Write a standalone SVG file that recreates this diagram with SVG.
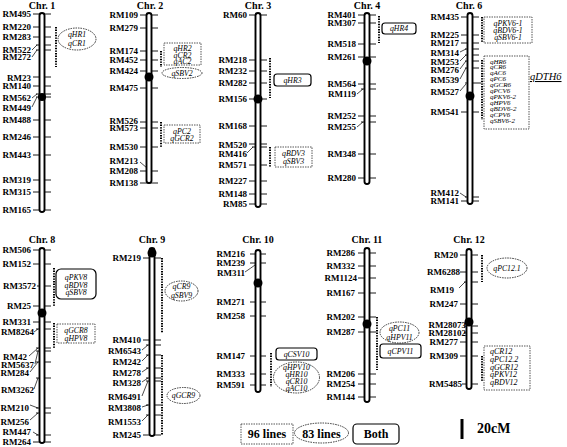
<svg xmlns="http://www.w3.org/2000/svg" width="567" height="447" viewBox="0 0 567 447">
<style>
text{font-family:"Liberation Serif","Times New Roman",serif;fill:#000}
.t{font-size:10px;font-weight:bold;text-anchor:middle}
.m{font-size:9px;font-weight:bold;text-anchor:end}
.q{font-size:7.8px;font-style:italic;text-anchor:middle}
.bar{fill:#fff;stroke:#000;stroke-width:1.9}
.tk{stroke:#000;stroke-width:0.9}
.ld{stroke:#000;stroke-width:0.7;fill:none}
.cen{fill:#000}
.iv{stroke:#000;stroke-width:2;stroke-dasharray:1.4 1.2}
.db{fill:none;stroke:#444;stroke-width:0.9;stroke-dasharray:1.5 1}
.el{fill:none;stroke:#333;stroke-width:1;stroke-dasharray:1.5 1}
.rb{fill:none;stroke:#000;stroke-width:1.2}
.lg{font-size:12px;font-weight:bold;text-anchor:middle}
.s6{font-size:7px;font-style:italic;text-anchor:start}
</style>

<!-- Chromosome 1 -->
<g id="chr1">
<text class="t" x="42" y="9">Chr. 1</text>
<g class="tk">
<line x1="33" y1="14" x2="51" y2="14"/><line x1="33" y1="27" x2="51" y2="27"/><line x1="33" y1="37" x2="51" y2="37"/>
<line x1="36" y1="45" x2="51" y2="45"/><line x1="36" y1="50" x2="51" y2="50"/><line x1="33" y1="77" x2="51" y2="77"/>
<line x1="33" y1="86" x2="51" y2="86"/><line x1="36" y1="94" x2="51" y2="94"/><line x1="36" y1="97" x2="51" y2="97"/>
<line x1="33" y1="120" x2="51" y2="120"/><line x1="33" y1="137" x2="51" y2="137"/><line x1="33" y1="155" x2="51" y2="155"/>
<line x1="33" y1="180" x2="51" y2="180"/><line x1="33" y1="192" x2="51" y2="192"/><line x1="33" y1="210" x2="51" y2="210"/>
</g>
<path class="ld" d="M32 50 L37 45 M32 57 L37 50 M32 98 L37 94 M32 107 L37 97"/>
<rect class="bar" x="39.5" y="13" width="5" height="199" rx="2.5"/>
<circle class="cen" cx="42" cy="97" r="4"/>
<text class="m" x="31" y="17">RM495</text><text class="m" x="31" y="30">RM220</text><text class="m" x="31" y="40">RM283</text>
<text class="m" x="31" y="53">RM522</text><text class="m" x="31" y="60">RM272</text><text class="m" x="31" y="81">RM23</text>
<text class="m" x="31" y="89">RM140</text><text class="m" x="31" y="101">RM562</text><text class="m" x="31" y="111">RM449</text>
<text class="m" x="31" y="123">RM488</text><text class="m" x="31" y="140">RM246</text><text class="m" x="31" y="158">RM443</text>
<text class="m" x="31" y="183">RM319</text><text class="m" x="31" y="195">RM315</text><text class="m" x="31" y="213">RM165</text>
</g>

<!-- Chromosome 2 -->
<g id="chr2">
<text class="t" x="150" y="9">Chr. 2</text>
<g class="tk">
<line x1="140" y1="15" x2="158" y2="15"/><line x1="140" y1="28" x2="158" y2="28"/><line x1="140" y1="51" x2="158" y2="51"/>
<line x1="140" y1="60" x2="158" y2="60"/><line x1="140" y1="71" x2="158" y2="71"/><line x1="140" y1="88" x2="158" y2="88"/>
<line x1="140" y1="122" x2="158" y2="122"/><line x1="140" y1="128" x2="158" y2="128"/><line x1="140" y1="147" x2="158" y2="147"/>
<line x1="140" y1="171" x2="158" y2="171"/><line x1="140" y1="183" x2="158" y2="183"/>
</g>
<path class="ld" d="M140 162 L147 168"/>
<rect class="bar" x="146.5" y="13" width="5" height="170" rx="2.5"/>
<circle class="cen" cx="149" cy="77" r="4.5"/>
<text class="m" x="138" y="18">RM109</text><text class="m" x="138" y="31">RM279</text><text class="m" x="138" y="54">RM174</text>
<text class="m" x="138" y="63">RM452</text><text class="m" x="138" y="74">RM424</text><text class="m" x="138" y="91">RM475</text>
<text class="m" x="138" y="124">RM526</text><text class="m" x="138" y="131">RM573</text><text class="m" x="138" y="150">RM530</text>
<text class="m" x="138" y="164">RM213</text><text class="m" x="138" y="174">RM208</text><text class="m" x="138" y="186">RM138</text>
</g>

<!-- Chromosome 3 -->
<g id="chr3">
<text class="t" x="258" y="9">Chr. 3</text>
<g class="tk">
<line x1="249" y1="15" x2="267" y2="15"/><line x1="249" y1="60" x2="267" y2="60"/><line x1="249" y1="71" x2="267" y2="71"/>
<line x1="249" y1="83" x2="267" y2="83"/><line x1="249" y1="99" x2="267" y2="99"/><line x1="249" y1="126" x2="267" y2="126"/>
<line x1="249" y1="144" x2="267" y2="144"/><line x1="252" y1="147" x2="267" y2="147"/><line x1="249" y1="165" x2="267" y2="165"/>
<line x1="249" y1="181" x2="267" y2="181"/><line x1="249" y1="194" x2="267" y2="194"/><line x1="249" y1="204" x2="267" y2="204"/>
</g>
<path class="ld" d="M247 153 L253 147"/>
<rect class="bar" x="255.5" y="13" width="5" height="194" rx="2.5"/>
<circle class="cen" cx="258" cy="99" r="4.5"/>
<text class="m" x="247" y="18">RM60</text><text class="m" x="247" y="63">RM218</text><text class="m" x="247" y="74">RM232</text>
<text class="m" x="247" y="86">RM282</text><text class="m" x="247" y="102">RM156</text><text class="m" x="247" y="129">RM168</text>
<text class="m" x="247" y="148">RM520</text><text class="m" x="247" y="157">RM416</text><text class="m" x="247" y="168">RM571</text>
<text class="m" x="247" y="184">RM227</text><text class="m" x="247" y="197">RM148</text><text class="m" x="247" y="207">RM85</text>
</g>

<!-- Chromosome 4 -->
<g id="chr4">
<text class="t" x="367" y="9">Chr. 4</text>
<g class="tk">
<line x1="358" y1="15" x2="376" y2="15"/><line x1="358" y1="23" x2="376" y2="23"/><line x1="358" y1="44" x2="376" y2="44"/>
<line x1="358" y1="57" x2="376" y2="57"/><line x1="358" y1="84" x2="376" y2="84"/><line x1="361" y1="89" x2="376" y2="89"/>
<line x1="358" y1="116" x2="376" y2="116"/><line x1="361" y1="122" x2="376" y2="122"/><line x1="358" y1="154" x2="376" y2="154"/>
<line x1="358" y1="178" x2="376" y2="178"/>
</g>
<path class="ld" d="M357 94 L363 89 M357 127 L363 122"/>
<rect class="bar" x="364.5" y="13" width="5" height="171" rx="2.5"/>
<circle class="cen" cx="367" cy="61" r="4.5"/>
<text class="m" x="356" y="18">RM401</text><text class="m" x="356" y="26">RM307</text><text class="m" x="356" y="47">RM518</text>
<text class="m" x="356" y="60">RM261</text><text class="m" x="356" y="87">RM564</text><text class="m" x="356" y="97">RM119</text>
<text class="m" x="356" y="119">RM252</text><text class="m" x="356" y="130">RM255</text><text class="m" x="356" y="157">RM348</text>
<text class="m" x="356" y="181">RM280</text>
</g>

<!-- Chromosome 6 -->
<g id="chr6">
<text class="t" x="469" y="9">Chr. 6</text>
<g class="tk">
<line x1="461" y1="17" x2="479" y2="17"/><line x1="461" y1="35" x2="479" y2="35"/><line x1="461" y1="43" x2="479" y2="43"/>
<line x1="465" y1="49" x2="479" y2="49"/><line x1="465" y1="55" x2="479" y2="55"/><line x1="465" y1="61" x2="479" y2="61"/>
<line x1="465" y1="68" x2="479" y2="68"/><line x1="465" y1="83" x2="481" y2="83"/><line x1="461" y1="112" x2="479" y2="112"/>
<line x1="465" y1="197" x2="479" y2="197"/><line x1="461" y1="201" x2="479" y2="201"/>
</g>
<path class="ld" d="M460 52 L466 49 M460 61 L466 55 M460 69 L466 61 M460 79 L466 68 M460 91 L466 84 M460 193 L466 197"/>
<rect class="bar" x="467.5" y="13" width="5" height="191" rx="2.5"/>
<circle class="cen" cx="470" cy="96" r="4.5"/>
<text class="m" x="459" y="20">RM435</text><text class="m" x="459" y="38">RM225</text><text class="m" x="459" y="46">RM217</text>
<text class="m" x="459" y="56">RM314</text><text class="m" x="459" y="65">RM253</text><text class="m" x="459" y="73">RM276</text>
<text class="m" x="459" y="83">RM539</text><text class="m" x="459" y="95">RM527</text><text class="m" x="459" y="115">RM541</text>
<text class="m" x="459" y="196">RM412</text><text class="m" x="459" y="204">RM141</text>
</g>

<!-- Chromosome 8 -->
<g id="chr8">
<text class="t" x="42" y="243">Chr. 8</text>
<g class="tk">
<line x1="33" y1="250" x2="51" y2="250"/><line x1="33" y1="264" x2="51" y2="264"/><line x1="37" y1="286" x2="51" y2="286"/>
<line x1="33" y1="306" x2="51" y2="306"/><line x1="33" y1="322" x2="51" y2="322"/><line x1="36" y1="329" x2="51" y2="329"/>
<line x1="36" y1="348" x2="51" y2="348"/><line x1="36" y1="351" x2="51" y2="351"/><line x1="36" y1="362" x2="51" y2="362"/>
<line x1="36" y1="378" x2="51" y2="378"/><line x1="36" y1="408" x2="51" y2="408"/><line x1="36" y1="413" x2="51" y2="413"/>
<line x1="36" y1="435" x2="51" y2="435"/><line x1="33" y1="442" x2="51" y2="442"/>
</g>
<path class="ld" d="M29 356 L38 348 M35 364 L38 351 M30 372 L38 362 M34 389 L38 378 M30 405 L38 408 M30 420 L38 413 M33 432 L38 435 M34 332 L38 329"/>
<rect class="bar" x="39.5" y="248" width="5" height="195" rx="2.5"/>
<circle class="cen" cx="42" cy="313" r="4.5"/>
<text class="m" x="31" y="253">RM506</text><text class="m" x="31" y="267">RM152</text><text class="m" x="36" y="289">RM3572</text>
<text class="m" x="31" y="309">RM25</text><text class="m" x="31" y="325">RM331</text><text class="m" x="34" y="335">RM8264</text>
<text class="m" x="27" y="360">RM42</text><text class="m" x="34" y="368">RM5637</text><text class="m" x="29" y="376">RM284</text>
<text class="m" x="34" y="393">RM3262</text><text class="m" x="29" y="411">RM210</text><text class="m" x="29" y="425">RM256</text>
<text class="m" x="31" y="435">RM447</text><text class="m" x="31" y="445">RM264</text>
</g>

<!-- Chromosome 9 -->
<g id="chr9">
<text class="t" x="152" y="243">Chr. 9</text>
<g class="tk">
<line x1="143" y1="258" x2="161" y2="258"/><line x1="143" y1="340" x2="161" y2="340"/><line x1="146" y1="345" x2="161" y2="345"/>
<line x1="146" y1="355" x2="161" y2="355"/><line x1="146" y1="368" x2="161" y2="368"/><line x1="146" y1="378" x2="161" y2="378"/>
<line x1="146" y1="381" x2="161" y2="381"/><line x1="146" y1="405" x2="161" y2="405"/><line x1="146" y1="415" x2="161" y2="415"/>
<line x1="143" y1="435" x2="161" y2="435"/>
</g>
<path class="ld" d="M142 350 L148 345 M142 361 L148 355 M142 372 L148 368 M142 382 L148 378 M142 396 L148 381 M142 407 L148 405 M142 421 L148 415"/>
<rect class="bar" x="149.5" y="248" width="5" height="188" rx="2.5"/>
<circle class="cen" cx="152" cy="253" r="4.5"/>
<text class="m" x="141" y="261">RM219</text><text class="m" x="141" y="343">RM410</text><text class="m" x="141" y="354">RM6543</text>
<text class="m" x="141" y="365">RM242</text><text class="m" x="141" y="376">RM278</text><text class="m" x="141" y="386">RM328</text>
<text class="m" x="141" y="400">RM6491</text><text class="m" x="141" y="411">RM3808</text><text class="m" x="141" y="425">RM1553</text>
<text class="m" x="141" y="438">RM245</text>
</g>

<!-- Chromosome 10 -->
<g id="chr10">
<text class="t" x="258" y="243">Chr. 10</text>
<g class="tk">
<line x1="250" y1="254" x2="266" y2="254"/><line x1="250" y1="263" x2="266" y2="263"/><line x1="250" y1="302" x2="266" y2="302"/>
<line x1="250" y1="316" x2="266" y2="316"/><line x1="250" y1="356" x2="266" y2="356"/><line x1="250" y1="374" x2="266" y2="374"/>
<line x1="250" y1="385" x2="266" y2="385"/>
</g>
<path class="ld" d="M245 272 Q251 268 255 265"/>
<rect class="bar" x="255.5" y="250" width="5" height="142" rx="2.5"/>
<circle class="cen" cx="258" cy="283" r="4.5"/>
<text class="m" x="245" y="257">RM216</text><text class="m" x="245" y="266">RM239</text><text class="m" x="245" y="276">RM311</text>
<text class="m" x="245" y="305">RM271</text><text class="m" x="245" y="319">RM258</text><text class="m" x="245" y="359">RM147</text>
<text class="m" x="245" y="377">RM333</text><text class="m" x="245" y="388">RM591</text>
</g>

<!-- Chromosome 11 -->
<g id="chr11">
<text class="t" x="367" y="243">Chr. 11</text>
<g class="tk">
<line x1="358" y1="253" x2="376" y2="253"/><line x1="358" y1="266" x2="376" y2="266"/><line x1="358" y1="278" x2="376" y2="278"/>
<line x1="358" y1="293" x2="376" y2="293"/><line x1="358" y1="317" x2="376" y2="317"/><line x1="358" y1="332" x2="376" y2="332"/>
<line x1="358" y1="374" x2="376" y2="374"/><line x1="358" y1="384" x2="376" y2="384"/><line x1="358" y1="397" x2="376" y2="397"/>
</g>
<rect class="bar" x="364.5" y="248" width="5" height="154" rx="2.5"/>
<circle class="cen" cx="367" cy="324" r="4.5"/>
<text class="m" x="355" y="256">RM286</text><text class="m" x="355" y="269">RM332</text><text class="m" x="357" y="281">RM1124</text>
<text class="m" x="355" y="296">RM167</text><text class="m" x="355" y="320">RM202</text><text class="m" x="355" y="335">RM287</text>
<text class="m" x="355" y="377">RM206</text><text class="m" x="355" y="387">RM254</text><text class="m" x="355" y="400">RM144</text>
</g>

<!-- Chromosome 12 -->
<g id="chr12">
<text class="t" x="469" y="243">Chr. 12</text>
<g class="tk">
<line x1="460" y1="255" x2="478" y2="255"/><line x1="460" y1="272" x2="478" y2="272"/><line x1="464" y1="282" x2="478" y2="282"/>
<line x1="460" y1="304" x2="478" y2="304"/><line x1="464" y1="326" x2="478" y2="326"/><line x1="464" y1="333" x2="478" y2="333"/>
<line x1="460" y1="342" x2="478" y2="342"/><line x1="460" y1="356" x2="478" y2="356"/><line x1="462" y1="384" x2="478" y2="384"/>
</g>
<path class="ld" d="M459 288 L465 282"/>
<rect class="bar" x="466.5" y="249" width="5" height="140" rx="2.5"/>
<circle class="cen" cx="469" cy="322" r="4.5"/>
<text class="m" x="458" y="258">RM20</text><text class="m" x="460" y="275">RM6288</text><text class="m" x="454" y="293">RM19</text>
<text class="m" x="458" y="307">RM247</text><text class="m" x="466" y="328">RM28073</text><text class="m" x="466" y="336">RM28102</text>
<text class="m" x="458" y="345">RM277</text><text class="m" x="458" y="359">RM309</text><text class="m" x="462" y="387">RM5485</text>
</g>

<!-- QTL interval connectors -->
<g id="connectors">
<line class="iv" x1="56" y1="27" x2="56" y2="67"/>
<line class="iv" x1="161" y1="51" x2="161" y2="67"/>
<line class="iv" x1="161" y1="122" x2="161" y2="147"/>
<line class="iv" x1="270" y1="58" x2="270" y2="98"/>
<line class="iv" x1="270" y1="147" x2="270" y2="167"/>
<line class="iv" x1="379" y1="16" x2="379" y2="43"/>
<line class="iv" x1="482" y1="17" x2="482" y2="43"/>
<line class="iv" x1="482" y1="60" x2="482" y2="120"/>
<line class="iv" x1="54" y1="268" x2="54" y2="306"/>
<line class="iv" x1="54" y1="323" x2="54" y2="348"/>
<line class="iv" x1="162" y1="258" x2="162" y2="333"/>
<line class="iv" x1="162" y1="355" x2="162" y2="435"/>
<line class="iv" x1="271" y1="353" x2="271" y2="387"/>
<line class="iv" x1="377" y1="317" x2="377" y2="370"/>
<line class="iv" x1="482" y1="255" x2="482" y2="282"/>
<line class="iv" x1="482" y1="356" x2="482" y2="382"/>
</g>

<!-- QTL nodes -->
<g id="q1"><ellipse class="el" cx="77" cy="39" rx="19" ry="11"/><text class="q" x="77" y="37">qHR1</text><text class="q" x="77" y="46">qCR1</text></g>
<g id="q2a"><rect class="db" x="164" y="43" width="37" height="22"/><text class="q" x="182.5" y="51">qHR2</text><text class="q" x="182.5" y="57.5">qCR2</text><text class="q" x="182.5" y="64">qAC2</text></g>
<g id="q2b"><ellipse class="el" cx="182" cy="73" rx="20" ry="5.5"/><text class="q" x="182" y="75.5">qSBV2</text></g>
<g id="q2c"><rect class="db" x="164" y="125" width="36" height="18"/><text class="q" x="182" y="134">qPC2</text><text class="q" x="182" y="141">qGCR2</text></g>
<g id="q3a"><rect class="rb" x="274" y="74" width="37" height="12" rx="3"/><text class="q" x="292.5" y="82.5">qHR3</text></g>
<g id="q3b"><rect class="db" x="275" y="147" width="37" height="20"/><text class="q" x="293.5" y="156">qBDV3</text><text class="q" x="293.5" y="164">qSBV3</text></g>
<g id="q4"><rect class="rb" x="382" y="23" width="34" height="11" rx="3"/><text class="q" x="399" y="31">qHR4</text></g>
<g id="q6a"><rect class="db" x="484" y="17" width="48" height="26"/><text class="q" x="508" y="25.5">qPKV6-1</text><text class="q" x="508" y="32.5">qBDV6-1</text><text class="q" x="508" y="39.5">qSBV6-1</text></g>
<g id="q6b"><rect class="db" x="484" y="56" width="45" height="73"/>
<text class="s6" x="490" y="63.5">qHR6</text><text class="s6" x="490" y="69.4">qCR6</text><text class="s6" x="490" y="75.3">qAC6</text><text class="s6" x="490" y="81.2">qPC6</text>
<text class="s6" x="490" y="87.1">qGCR6</text><text class="s6" x="490" y="93">qPCV6</text><text class="s6" x="490" y="98.9">qPKV6-2</text><text class="s6" x="490" y="104.8">qHPV6</text>
<text class="s6" x="490" y="110.7">qBDV6-2</text><text class="s6" x="490" y="116.6">qCPV6</text><text class="s6" x="490" y="122.5">qSBV6-2</text></g>
<g id="qDTH6"><text x="530" y="80" style="font-size:10.5px;font-style:italic;text-decoration:underline">qDTH6</text></g>
<g id="q8a"><rect class="rb" x="56" y="269" width="40" height="30" rx="5"/><text class="q" x="76" y="280">qPKV8</text><text class="q" x="76" y="287.5">qBDV8</text><text class="q" x="76" y="295">qSBV8</text></g>
<g id="q8b"><rect class="db" x="57" y="324" width="38" height="19"/><text class="q" x="76" y="333">qGCR8</text><text class="q" x="76" y="340.5">qHPV8</text></g>
<g id="q9a"><ellipse class="el" cx="181.5" cy="291" rx="16.5" ry="10"/><text class="q" x="181.5" y="289">qCR9</text><text class="q" x="181.5" y="298">qSBV9</text></g>
<g id="q9b"><ellipse class="el" cx="183.5" cy="395.5" rx="16.5" ry="8"/><text class="q" x="183.5" y="398">qGCR9</text></g>
<g id="q10a"><rect class="rb" x="276" y="348" width="41" height="12" rx="3"/><text class="q" x="296.5" y="356.5">qCSV10</text></g>
<g id="q10b"><ellipse class="el" cx="296.5" cy="377.5" rx="23" ry="15.5"/><text class="q" x="296.5" y="370">qHPV10</text><text class="q" x="296.5" y="377">qHR10</text><text class="q" x="296.5" y="384">qCR10</text><text class="q" x="296.5" y="391">qAC10</text></g>
<g id="q11a"><ellipse class="el" cx="399.5" cy="332.5" rx="19.5" ry="10.5"/><text class="q" x="399.5" y="330.5">qPC11</text><text class="q" x="399.5" y="340">qHPV11</text></g>
<g id="q11b"><rect class="rb" x="380" y="344" width="41" height="14" rx="3"/><text class="q" x="400.5" y="353.5">qCPV11</text></g>
<g id="q12a"><ellipse class="el" cx="507" cy="268" rx="20" ry="10"/><text class="q" x="507" y="270.5">qPC12.1</text></g>
<g id="q12b"><rect class="db" x="484" y="346" width="46" height="44"/>
<text class="q" x="490" y="354" style="text-anchor:start;font-size:8px">qCR12</text><text class="q" x="490" y="361.5" style="text-anchor:start;font-size:8px">qPC12.2</text><text class="q" x="490" y="369.5" style="text-anchor:start;font-size:8px">qGCR12</text><text class="q" x="490" y="377" style="text-anchor:start;font-size:8px">qPKV12</text><text class="q" x="490" y="384.5" style="text-anchor:start;font-size:8px">qBDV12</text></g>

<!-- Legend -->
<g id="legend96"><rect class="db" x="241" y="424" width="52" height="20"/><text class="lg" x="267" y="438">96 lines</text></g>
<g id="legend83"><ellipse class="el" cx="321.5" cy="433" rx="27" ry="10"/><text class="lg" x="321.5" y="437.5">83 lines</text></g>
<g id="legendBoth"><rect class="rb" x="353" y="424" width="46" height="20" rx="4"/><text class="lg" x="376" y="438">Both</text></g>
<g id="scale"><line x1="462" y1="419" x2="462" y2="439" stroke="#000" stroke-width="3"/><text x="477" y="433" style="font-size:14px;font-weight:bold">20cM</text></g>
</svg>
